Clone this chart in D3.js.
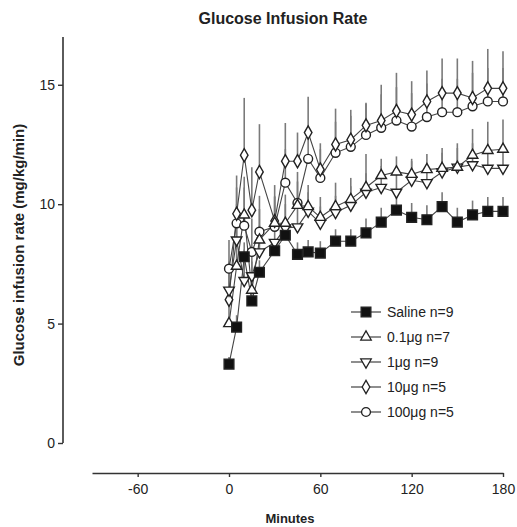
<!DOCTYPE html>
<html>
<head>
<meta charset="utf-8">
<script src="https://cdn.jsdelivr.net/npm/d3@7"></script>
<style>
  html, body { margin: 0; padding: 0; background: #fff; }
  svg { display: block; }
  text { font-family: "Liberation Sans", Arial, sans-serif; fill: #222; }
</style>
</head>
<body>
<svg id="chart" width="517" height="527"></svg>
<script>
// Sampling times (minutes after start of clamp)
const minutes = [0, 5, 10, 15, 20, 30, 37, 45, 52, 60, 70, 80, 90, 100, 110, 120, 130, 140, 150, 160, 170, 180];

// Glucose infusion rate, mg/kg/min (mean and SEM)
const saline    = [3.3, 4.85, 7.8, 5.95, 7.15, 8.05, 8.7, 7.9, 8.0, 7.95, 8.45, 8.45, 8.8, 9.25, 9.75, 9.45, 9.35, 9.9, 9.25, 9.55, 9.7, 9.7];
const salineSem = [0.3, 0.5, 0.6, 0.5, 0.5, 0.5, 0.6, 0.5, 0.5, 0.5, 0.5, 0.5, 0.6, 0.6, 0.6, 0.6, 0.6, 0.6, 0.6, 0.6, 0.6, 0.6];

const dose01    = [5.0, 7.4, 9.55, 6.4, 8.5, 9.2, 9.2, 9.95, 9.9, 9.45, 9.9, 10.2, 10.7, 11.2, 11.35, 11.25, 11.45, 11.5, 11.55, 12.05, 12.25, 12.3];
const dose01Sem = [1.0, 1.8, 1.6, 1.2, 1.3, 1.1, 1.2, 1.0, 0.9, 0.85, 1.0, 0.9, 1.4, 0.7, 0.65, 0.65, 0.65, 0.85, 1.0, 1.1, 1.2, 1.25];

const dose1     = [6.4, 8.5, 6.8, 7.0, 8.0, 8.4, 9.0, 9.05, 9.7, 9.2, 9.65, 9.95, 10.5, 10.7, 10.5, 11.0, 10.9, 11.35, 11.55, 11.65, 11.5, 11.5];
const dose1Sem  = [1.2, 1.5, 1.3, 1.2, 1.1, 1.0, 1.0, 0.9, 0.8, 0.7, 0.7, 0.8, 0.8, 0.9, 0.8, 0.8, 0.7, 0.8, 0.8, 0.9, 0.9, 0.9];

const dose10    = [6.0, 9.6, 12.05, 9.75, 11.35, 9.3, 11.8, 11.8, 13.0, 11.45, 12.5, 12.7, 13.3, 13.5, 13.9, 13.75, 14.3, 14.65, 14.65, 14.45, 14.85, 14.85];
const dose10Sem = [1.5, 1.6, 2.4, 1.8, 2.0, 1.5, 1.6, 1.2, 1.5, 1.1, 1.5, 1.25, 0.95, 1.5, 1.6, 1.4, 1.3, 1.45, 1.45, 1.55, 1.65, 1.55];

const dose100    = [7.3, 9.2, 9.1, 8.0, 8.85, 9.05, 10.9, 10.05, 11.9, 11.1, 12.15, 12.4, 12.9, 13.2, 13.5, 13.25, 13.65, 13.85, 13.85, 14.1, 14.3, 14.3];
const dose100Sem = [1.2, 1.5, 1.6, 1.4, 1.5, 1.3, 1.4, 1.3, 1.3, 1.2, 1.3, 1.3, 1.3, 1.4, 1.4, 1.4, 1.4, 1.4, 1.4, 1.4, 1.4, 1.4];

const groupLabels = ["Saline n=9", "0.1μg n=7", "1μg n=9", "10μg n=5", "100μg n=5"];
const xTicks = [-60, 0, 60, 120, 180];
const yTicks = [0, 5, 10, 15];

const series = [
  { label: groupLabels[0], mean: saline,  sem: salineSem,  shape: "square",  filled: true },
  { label: groupLabels[1], mean: dose01,  sem: dose01Sem,  shape: "triUp",   filled: false },
  { label: groupLabels[2], mean: dose1,   sem: dose1Sem,   shape: "triDown", filled: false },
  { label: groupLabels[3], mean: dose10,  sem: dose10Sem,  shape: "diamond", filled: false },
  { label: groupLabels[4], mean: dose100, sem: dose100Sem, shape: "circle",  filled: false }
];

const svg = d3.select("#chart");

const x = d3.scaleLinear().domain([-90, 180]).range([92, 503]);
const y = d3.scaleLinear().domain([0, 17]).range([443, 37]);

const symbolPath = {
  square:  d3.symbol(d3.symbolSquare, 95)(),
  triUp:   d3.symbol(d3.symbolTriangle, 48)(),
  triDown: d3.symbol(d3.symbolTriangle, 48)(),
  diamond: d3.symbol(d3.symbolDiamond, 50)(),
  circle:  d3.symbol(d3.symbolCircle, 62)()
};
function placeSymbol(sel, shape, px, py) {
  sel.attr("d", symbolPath[shape])
     .attr("transform", `translate(${px},${py})` + (shape === "triDown" ? " rotate(180)" : ""));
}

// Y axis
const yAxis = svg.append("g")
  .attr("transform", `translate(${x(-90) - 29},0)`)
  .call(d3.axisLeft(y).tickValues(yTicks).tickSize(5).tickSizeOuter(0).tickFormat(d => String(d)));
yAxis.select(".domain").attr("d", `M0,${y(17)}V${y(0)}`);

// X axis (detached below the plot); plain hyphen for negative labels
const xAxis = svg.append("g")
  .attr("transform", "translate(0,473)")
  .call(d3.axisBottom(x).tickValues(xTicks).tickSize(4).tickSizeOuter(0).tickFormat(d => String(d)));

[yAxis, xAxis].forEach(ax => {
  ax.selectAll(".domain").attr("stroke", "#333").attr("stroke-width", 1.6);
  ax.selectAll(".tick line").attr("stroke", "#333").attr("stroke-width", 1.4);
  ax.selectAll(".tick text").attr("fill", "#333")
    .style("font-family", "'Liberation Sans', Arial, sans-serif").style("font-size", "14px");
});
xAxis.selectAll(".tick text").attr("dy", "1.0em");
yAxis.selectAll(".tick text").attr("x", -8);

// Titles
svg.append("text").attr("x", 283).attr("y", 24).attr("text-anchor", "middle")
  .style("font-size", "16px").style("font-weight", "bold").text("Glucose Infusion Rate");
svg.append("text").attr("x", 290).attr("y", 523).attr("text-anchor", "middle")
  .style("font-size", "13px").style("font-weight", "bold").text("Minutes");
svg.append("text")
  .attr("transform", `translate(24,245) rotate(-90)`)
  .attr("text-anchor", "middle")
  .style("font-size", "15px").style("font-weight", "bold")
  .text("Glucose infusion rate (mg/kg/min)");

const plot = svg.append("g");

// SEM bars (upper half only)
series.forEach(s => {
  plot.append("g").selectAll("line").data(minutes).join("line")
    .attr("x1", (t) => x(t)).attr("x2", (t) => x(t))
    .attr("y1", (t, i) => y(s.mean[i]))
    .attr("y2", (t, i) => y(s.mean[i] + s.sem[i]))
    .attr("stroke", "#7a7a7a").attr("stroke-width", 1.6);
});

// connecting lines
const line = d3.line().x(d => x(d[0])).y(d => y(d[1]));
series.forEach(s => {
  plot.append("path")
    .attr("d", line(minutes.map((t, i) => [t, s.mean[i]])))
    .attr("fill", "none").attr("stroke", "#444").attr("stroke-width", 1.1);
});

// markers
series.slice().reverse().forEach(s => {
  plot.append("g").selectAll("path").data(minutes).join("path")
    .each(function (t, i) { placeSymbol(d3.select(this), s.shape, x(t), y(s.mean[i])); })
    .attr("fill", s.filled ? "#111" : "#fff")
    .attr("stroke", "#222").attr("stroke-width", 1.4);
});

// legend
const legend = svg.append("g");
series.forEach((s, k) => {
  const ly = 312 + k * 25;
  legend.append("line").attr("x1", 351).attr("x2", 381).attr("y1", ly).attr("y2", ly)
    .attr("stroke", "#444").attr("stroke-width", 1.2);
  const m = legend.append("path")
    .attr("fill", s.filled ? "#111" : "#fff").attr("stroke", "#222").attr("stroke-width", 1.3);
  placeSymbol(m, s.shape, 366, ly);
  legend.append("text").attr("x", 387).attr("y", ly + 5)
    .style("font-size", "14px").attr("fill", "#333").text(s.label);
});
</script>
</body>
</html>
